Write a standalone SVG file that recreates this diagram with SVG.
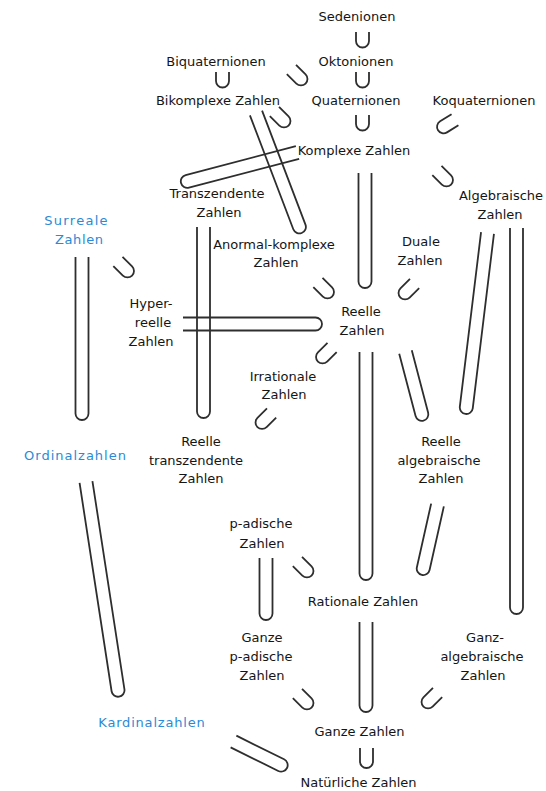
<svg xmlns="http://www.w3.org/2000/svg" xmlns:xlink="http://www.w3.org/1999/xlink" width="546" height="791" viewBox="0 0 546 791">
<style>
text{font-family:"DejaVu Sans","Liberation Sans",sans-serif;font-size:13px;fill:#151515;text-anchor:middle}
text.b{fill:#2b8ad6}
.c path,.c use{fill:none;stroke:#2e2e2e;stroke-width:1.8}
</style>
<defs>
<path id="u" d="M-6.5,-7.5 V1.5 A6.5,6.5 0 0 0 6.5,1.5 V-7.5"/>
<path id="ud" d="M-6.5,-10 V3.5 A6.5,6.5 0 0 0 6.5,3.5 V-10"/>
</defs>
<rect width="546" height="791" fill="#fff"/>
<g id="connectors" class="c">
<use xlink:href="#u" href="#u" transform="translate(362.5,39.5)"/>
<use xlink:href="#u" href="#u" transform="translate(362.5,79.5)"/>
<use xlink:href="#u" href="#u" transform="translate(222.5,79.5)"/>
<use xlink:href="#ud" href="#ud" transform="translate(298.5,76.5) rotate(-45)"/>
<use xlink:href="#ud" href="#ud" transform="translate(281.5,118.5) rotate(-45)"/>
<use xlink:href="#u" href="#u" transform="translate(362.5,122.5)"/>
<use xlink:href="#ud" href="#ud" transform="translate(446.5,125) rotate(58)"/>
<use xlink:href="#ud" href="#ud" transform="translate(444,177.5) rotate(-45)"/>
<use xlink:href="#ud" href="#ud" transform="translate(125,268.5) rotate(-45)"/>
<use xlink:href="#ud" href="#ud" transform="translate(325,289.5) rotate(-45)"/>
<use xlink:href="#ud" href="#ud" transform="translate(407.5,290.5) rotate(45)"/>
<use xlink:href="#ud" href="#ud" transform="translate(325,354.5) rotate(45)"/>
<use xlink:href="#ud" href="#ud" transform="translate(264.5,420) rotate(45)"/>
<use xlink:href="#ud" href="#ud" transform="translate(304.5,568.5) rotate(-45)"/>
<use xlink:href="#ud" href="#ud" transform="translate(304.5,700.5) rotate(-45)"/>
<use xlink:href="#ud" href="#ud" transform="translate(430.5,699.5) rotate(45)"/>
<use xlink:href="#ud" href="#ud" transform="translate(366.5,758)"/>
<path d="M-6.5,0 V121.9 A6.5,6.5 0 0 0 6.5,121.9 V0" transform="translate(256,113) rotate(-20.85)"/>
<path d="M-6.5,0 V113.9 A6.5,6.5 0 0 0 6.5,113.9 V0" transform="translate(297.5,152.5) rotate(75.33)"/>
<path d="M-6.5,0 V108.5 A6.5,6.5 0 0 0 6.5,108.5 V0" transform="translate(365,173)"/>
<path d="M-6.5,0 V184.5 A6.5,6.5 0 0 0 6.5,184.5 V0" transform="translate(203.5,227)"/>
<path d="M-6.5,0 V156.5 A6.5,6.5 0 0 0 6.5,156.5 V0" transform="translate(82,257)"/>
<path d="M-6.5,0 V132.5 A6.5,6.5 0 0 0 6.5,132.5 V0" transform="translate(183,324) rotate(-90)"/>
<path d="M-6.5,0 V221.5 A6.5,6.5 0 0 0 6.5,221.5 V0" transform="translate(366,352)"/>
<path d="M-6.5,0 V64.5 A6.5,6.5 0 0 0 6.5,64.5 V0" transform="translate(405.5,352) rotate(-14.7)"/>
<path d="M-6.5,0 V175.8 A6.5,6.5 0 0 0 6.5,175.8 V0" transform="translate(487.5,233) rotate(6.93)"/>
<path d="M-6.5,0 V379.5 A6.5,6.5 0 0 0 6.5,379.5 V0" transform="translate(516.5,228)"/>
<path d="M-6.5,0 V65.2 A6.5,6.5 0 0 0 6.5,65.2 V0" transform="translate(437.5,505) rotate(12.64)"/>
<path d="M-6.5,0 V210.7 A6.5,6.5 0 0 0 6.5,210.7 V0" transform="translate(86,482) rotate(-8.74)"/>
<path d="M-6.5,0 V55.5 A6.5,6.5 0 0 0 6.5,55.5 V0" transform="translate(266,558)"/>
<path d="M-6.5,0 V83.5 A6.5,6.5 0 0 0 6.5,83.5 V0" transform="translate(366,622)"/>
<path d="M-6.5,0 V53.2 A6.5,6.5 0 0 0 6.5,53.2 V0" transform="translate(233.5,741.5) rotate(-63.65)"/>
</g>
<g id="sedenionen"><text x="357" y="21">Sedenionen</text></g>
<g id="oktonionen"><text x="356" y="66">Oktonionen</text></g>
<g id="biquaternionen"><text x="216" y="66">Biquaternionen</text></g>
<g id="bikomplexe"><text x="218" y="105">Bikomplexe Zahlen</text></g>
<g id="quaternionen"><text x="356" y="105">Quaternionen</text></g>
<g id="koquaternionen"><text x="484" y="105">Koquaternionen</text></g>
<g id="komplexe"><text x="354" y="155">Komplexe Zahlen</text></g>
<g id="transzendente"><text x="217" y="198">Transzendente</text><text x="219" y="217">Zahlen</text></g>
<g id="algebraische"><text x="501" y="200">Algebraische</text><text x="500" y="219">Zahlen</text></g>
<g id="surreale"><text class="b" x="76.6" y="225" letter-spacing="1.3">Surreale</text><text class="b" x="79.3" y="244" letter-spacing="0.6">Zahlen</text></g>
<g id="anormal"><text x="274" y="249">Anormal-komplexe</text><text x="276" y="267">Zahlen</text></g>
<g id="duale"><text x="421" y="246">Duale</text><text x="420" y="265">Zahlen</text></g>
<g id="hyperreelle"><text x="151" y="308">Hyper-</text><text x="153" y="327">reelle</text><text x="151" y="346">Zahlen</text></g>
<g id="reelle"><text x="361" y="316">Reelle</text><text x="362" y="335">Zahlen</text></g>
<g id="irrationale"><text x="283" y="381">Irrationale</text><text x="284" y="399">Zahlen</text></g>
<g id="ordinalzahlen"><text class="b" x="75.5" y="460" letter-spacing="1">Ordinalzahlen</text></g>
<g id="reelle-transzendente"><text x="201" y="446">Reelle</text><text x="196" y="465">transzendente</text><text x="201" y="483">Zahlen</text></g>
<g id="reelle-algebraische"><text x="441" y="446">Reelle</text><text x="439" y="465">algebraische</text><text x="441" y="483">Zahlen</text></g>
<g id="p-adische"><text x="261" y="528">p-adische</text><text x="262" y="548">Zahlen</text></g>
<g id="rationale"><text x="363" y="606">Rationale Zahlen</text></g>
<g id="ganze-p-adische"><text x="262" y="642">Ganze</text><text x="261" y="661">p-adische</text><text x="262" y="680">Zahlen</text></g>
<g id="ganz-algebraische"><text x="485" y="642">Ganz-</text><text x="482" y="661">algebraische</text><text x="483" y="680">Zahlen</text></g>
<g id="kardinalzahlen"><text class="b" x="151.9" y="727" letter-spacing="0.8">Kardinalzahlen</text></g>
<g id="ganze"><text x="359.5" y="736">Ganze Zahlen</text></g>
<g id="natuerliche"><text x="358.5" y="787">Natürliche Zahlen</text></g>
</svg>
